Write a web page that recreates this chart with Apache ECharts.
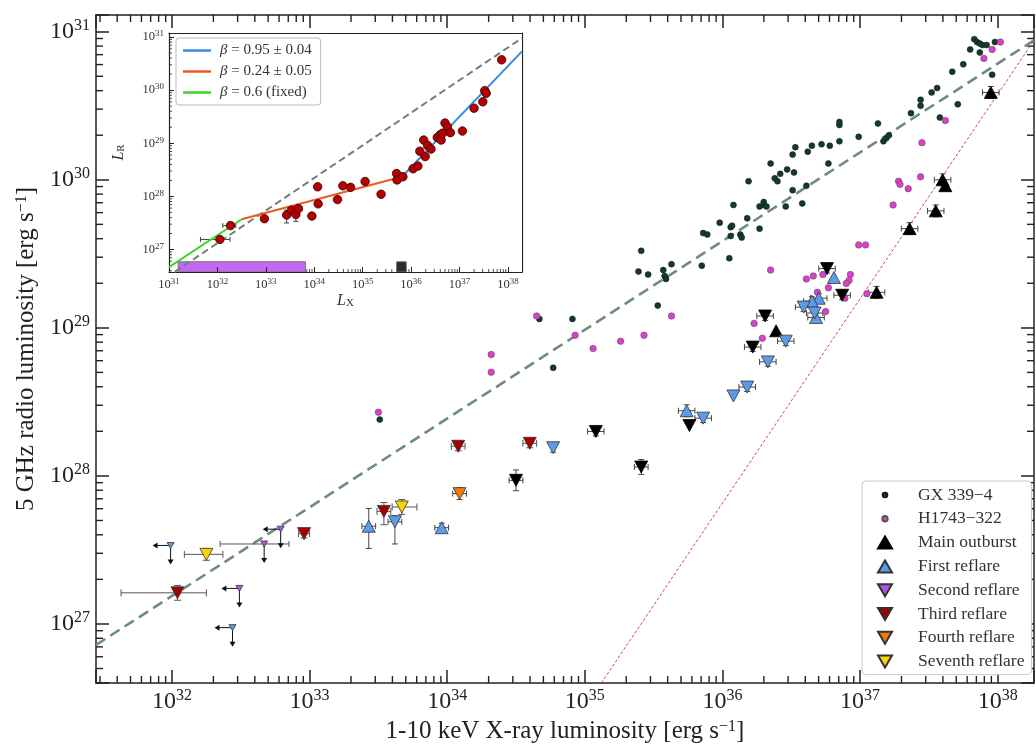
<!DOCTYPE html>
<html>
<head>
<meta charset="utf-8">
<script src="https://cdn.jsdelivr.net/npm/echarts@6/dist/echarts.min.js"></script>
<style>
  html, body { margin: 0; padding: 0; background: #fff; }
  #chart { width: 1036px; height: 745px; }
</style>
</head>
<body>
<div id="chart"></div>
<script>
// all luminosities are given as log10 (erg/s)

// GX 339-4 : [logLx, logLr]
const gxPoints = [
  [33.51, 28.38], [34.67, 29.06], [34.91, 29.06], [34.77, 28.73], [35.41, 29.52],
  [35.39, 29.38], [35.46, 29.36], [35.53, 29.15], [35.57, 29.39], [35.58, 29.35],
  [35.59, 29.33], [35.63, 29.43], [35.85, 29.42], [35.86, 29.64], [35.89, 29.63],
  [35.98, 29.71], [36.05, 29.47], [36.06, 29.62], [36.06, 29.68], [36.07, 29.69],
  [36.08, 29.83], [36.13, 29.63], [36.14, 29.61], [36.18, 29.74], [36.19, 29.99],
  [36.27, 29.67], [36.27, 29.82], [36.30, 29.85], [36.30, 29.83], [36.32, 29.82],
  [36.35, 30.11], [36.38, 30.01], [36.40, 29.99], [36.42, 30.04], [36.47, 30.07],
  [36.52, 30.05], [36.51, 30.17], [36.53, 30.22], [36.51, 29.93], [36.46, 29.82],
  [36.58, 29.84], [36.61, 29.96], [36.62, 30.19], [36.65, 30.23], [36.72, 30.24],
  [36.78, 30.23], [36.77, 30.11], [36.85, 30.26], [36.85, 30.37], [36.85, 30.39],
  [36.99, 30.29], [37.13, 30.38], [37.17, 30.26], [37.19, 30.28], [37.21, 30.30],
  [37.37, 30.45], [37.44, 30.50], [37.44, 30.54], [37.52, 30.59], [37.56, 30.62],
  [37.58, 30.42], [37.67, 30.73], [37.71, 30.51], [37.75, 30.78], [37.80, 30.88],
  [37.83, 30.95], [37.85, 30.93], [37.87, 30.92], [37.89, 30.91], [37.92, 30.91],
  [37.87, 30.86], [37.96, 30.71], [37.98, 30.93]
];

// H1743-322 : [logLx, logLr]
const h1743Points = [
  [33.50, 28.43], [34.32, 28.82], [34.32, 28.70], [34.65, 29.08], [34.93, 28.95],
  [35.06, 28.86], [35.26, 28.91], [35.43, 28.95], [35.63, 29.08], [36.35, 29.39],
  [36.23, 29.03], [36.29, 28.93], [36.61, 29.33], [36.66, 29.35], [36.73, 29.36],
  [36.93, 29.36], [36.92, 29.32], [36.90, 29.30], [36.77, 29.27], [36.69, 29.24],
  [36.89, 29.20], [36.75, 29.11], [37.05, 29.23], [36.99, 29.56], [37.04, 29.56],
  [37.24, 29.83], [37.28, 29.99], [37.29, 29.97], [37.35, 29.94], [37.44, 30.02],
  [37.45, 30.25], [37.62, 30.40], [37.90, 30.82], [37.96, 30.88], [38.02, 30.93]
];

// outburst markers : [logLx, logLr, xErrLo, xErrHi, yErrLo, yErrHi] (errors in dex)
const mainUp = [
  [37.95, 30.59, 0.06, 0.06, 0.04, 0.04], [37.60, 30.00, 0.06, 0.06, 0.04, 0.04],
  [37.62, 29.96, 0, 0, 0, 0], [37.55, 29.79, 0.06, 0.06, 0.04, 0.04],
  [37.36, 29.67, 0.06, 0.06, 0.04, 0.04], [37.12, 29.24, 0.06, 0.06, 0.04, 0.04],
  [36.39, 28.98, 0, 0, 0, 0]
];
const mainDown = [
  [36.76, 29.40, 0.06, 0.06, 0.03, 0.03], [36.87, 29.22, 0.06, 0.06, 0.03, 0.03],
  [36.31, 29.08, 0.06, 0.06, 0.03, 0.03], [36.22, 28.87, 0.06, 0.06, 0.03, 0.03],
  [35.76, 28.34, 0, 0, 0, 0], [35.08, 28.30, 0.06, 0.06, 0.03, 0.03],
  [34.50, 27.97, 0.05, 0.05, 0.07, 0.07], [35.41, 28.06, 0.05, 0.05, 0.05, 0.05]
];
const firstUp = [
  [33.43, 27.66, 0.05, 0.05, 0.15, 0.12], [33.96, 27.65, 0.05, 0.05, 0.03, 0.03],
  [35.74, 28.44, 0.06, 0.06, 0.04, 0.04], [36.81, 29.34, 0, 0, 0, 0],
  [36.70, 29.20, 0.06, 0.06, 0.03, 0.03], [36.65, 29.18, 0.06, 0.06, 0.03, 0.03],
  [36.68, 29.07, 0.06, 0.06, 0.03, 0.03]
];
const firstDown = [
  [33.62, 27.69, 0.05, 0.05, 0.15, 0.04], [34.77, 28.19, 0, 0, 0.03, 0.03],
  [35.86, 28.39, 0.06, 0.06, 0.03, 0.03], [36.08, 28.54, 0, 0, 0, 0],
  [36.18, 28.60, 0.06, 0.06, 0.03, 0.03], [36.33, 28.77, 0.06, 0.06, 0.03, 0.03],
  [36.46, 28.91, 0.06, 0.06, 0.03, 0.03], [36.59, 29.14, 0.06, 0.06, 0.03, 0.03],
  [36.67, 29.10, 0.06, 0.06, 0.03, 0.03]
];
const thirdDown = [
  [32.04, 27.21, 0.41, 0.21, 0.05, 0.05], [32.96, 27.61, 0.04, 0.04, 0.03, 0.03],
  [33.54, 27.76, 0.05, 0.05, 0.09, 0.06], [34.08, 28.20, 0.05, 0.05, 0.03, 0.03],
  [34.60, 28.22, 0.05, 0.05, 0.03, 0.03]
];
const fourthDown = [[34.09, 27.88, 0.05, 0.05, 0.04, 0.04]];
const seventhDown = [
  [32.25, 27.47, 0.16, 0.12, 0.04, 0.04], [33.67, 27.79, 0.07, 0.11, 0.05, 0.05]
];
// upper limits : [logLx, logLr, xErrLo, xErrHi, xIsLimit]
const firstLimits = [[31.99, 27.53, 0, 0, 1], [32.44, 26.975, 0, 0, 1]];
const secondLimits = [[32.67, 27.54, 0.32, 0.18, 0], [32.79, 27.64, 0, 0, 1], [32.49, 27.24, 0, 0, 1]];

// reference tracks : end points [logLx, logLr]
const standardTrack = [[31.448, 26.858], [38.27, 30.946]];
const steepTrack = [[35.12, 26.601], [38.27, 30.95]];

// inset : [logLx, logLr, xErrLo, xErrHi, yErrLo, yErrHi]
const insetPoints = [
  [32.05, 27.19, 0.40, 0.21, 0, 0], [32.27, 27.45, 0.16, 0.11, 0, 0], [32.97, 27.58, 0, 0, 0, 0],
  [33.43, 27.65, 0, 0, 0.15, 0.09], [33.53, 27.74, 0, 0, 0, 0], [33.62, 27.66, 0, 0, 0.13, 0.08],
  [33.67, 27.77, 0.08, 0.08, 0, 0], [33.95, 27.63, 0, 0, 0, 0], [34.07, 28.18, 0, 0, 0, 0],
  [34.08, 27.86, 0, 0, 0, 0], [34.48, 27.94, 0, 0, 0, 0], [34.59, 28.20, 0, 0, 0, 0],
  [34.75, 28.17, 0, 0, 0, 0], [35.05, 28.28, 0, 0, 0, 0], [35.38, 28.04, 0, 0, 0, 0],
  [35.70, 28.43, 0, 0, 0, 0], [35.71, 28.31, 0, 0, 0, 0], [35.83, 28.37, 0, 0, 0, 0],
  [36.04, 28.52, 0, 0, 0, 0], [36.14, 28.57, 0, 0, 0, 0], [36.18, 28.85, 0, 0, 0, 0],
  [36.26, 29.06, 0, 0, 0, 0], [36.29, 28.75, 0, 0, 0, 0], [36.34, 28.96, 0, 0, 0, 0],
  [36.41, 28.89, 0, 0, 0, 0], [36.54, 29.11, 0, 0, 0, 0], [36.60, 29.16, 0, 0, 0, 0],
  [36.62, 29.06, 0, 0, 0, 0], [36.65, 29.19, 0, 0, 0, 0], [36.70, 29.38, 0, 0, 0, 0],
  [36.75, 29.31, 0, 0, 0, 0], [36.81, 29.20, 0, 0, 0, 0], [37.06, 29.23, 0, 0, 0, 0],
  [37.30, 29.66, 0, 0, 0, 0], [37.48, 29.78, 0, 0, 0, 0], [37.52, 29.99, 0, 0, 0, 0],
  [37.55, 29.94, 0, 0, 0, 0], [37.87, 30.57, 0, 0, 0, 0]
];
const fitFixed = [[31.0, 26.67], [32.5, 27.57]];
const fitFlat = [[32.5, 27.57], [35.81, 28.37]];
const fitSteep = [[35.81, 28.37], [38.29, 30.73]];
const insetTrack = [[31.12, 26.58], [38.29, 30.98]];
// x ranges [from, to, top] drawn up from the inset floor
const insetRangeA = [31.19, 33.82, 26.77];
const insetRangeB = [35.70, 35.90, 26.77];

const mainX = [31.448, 38.264], mainY = [26.601, 31.113];
const insetX = [31.0, 38.29], insetY = [26.577, 31.075];

const P = v => Math.pow(10, v);
const SERIF = 'Liberation Serif';

function powLabel(v) {
  const e = Math.log10(v);
  const r = Math.round(e);
  if (Math.abs(e - r) > 1e-6) return '';
  return '{b|10}{s|' + r + '}';
}
function minorTicks(lo, hi) {
  const out = [];
  for (let e = Math.floor(lo); e <= Math.ceil(hi); e++) {
    for (let m = 2; m <= 9; m++) {
      const l = e + Math.log10(m);
      if (l > lo && l < hi) out.push(l);
    }
  }
  return out;
}
const pts = arr => arr.map(d => [P(d[0]), P(d[1])]);
const errs = arr => arr.map(d => [P(d[0]), P(d[1]), P(d[0] - d[2]), P(d[0] + d[3]), P(d[1] - d[4]), P(d[1] + d[5])]);

function errorRenderer(color, cap, width) {
  return function (params, api) {
    const x = api.value(0), y = api.value(1);
    const c = api.coord([x, y]);
    const xl = api.coord([api.value(2), y])[0], xh = api.coord([api.value(3), y])[0];
    const yl = api.coord([x, api.value(4)])[1], yh = api.coord([x, api.value(5)])[1];
    const st = { stroke: color, lineWidth: width };
    const ch = [];
    if (xh - xl > 0.5) {
      ch.push({ type: 'line', shape: { x1: xl, y1: c[1], x2: xh, y2: c[1] }, style: st });
      ch.push({ type: 'line', shape: { x1: xl, y1: c[1] - cap, x2: xl, y2: c[1] + cap }, style: st });
      ch.push({ type: 'line', shape: { x1: xh, y1: c[1] - cap, x2: xh, y2: c[1] + cap }, style: st });
    }
    if (yl - yh > 0.5) {
      ch.push({ type: 'line', shape: { x1: c[0], y1: yl, x2: c[0], y2: yh }, style: st });
      ch.push({ type: 'line', shape: { x1: c[0] - cap, y1: yl, x2: c[0] + cap, y2: yl }, style: st });
      ch.push({ type: 'line', shape: { x1: c[0] - cap, y1: yh, x2: c[0] + cap, y2: yh }, style: st });
    }
    return { type: 'group', children: ch };
  };
}

function limitRenderer(params, api) {
  const x = api.value(0), y = api.value(1);
  const c = api.coord([x, y]);
  const st = { stroke: '#111', lineWidth: 1 };
  const ch = [];
  const xl = api.coord([api.value(2), y])[0], xh = api.coord([api.value(3), y])[0];
  if (xh - xl > 0.5) {
    const gs = { stroke: '#555', lineWidth: 1 };
    ch.push({ type: 'line', shape: { x1: xl, y1: c[1], x2: xh, y2: c[1] }, style: gs });
    ch.push({ type: 'line', shape: { x1: xl, y1: c[1] - 3, x2: xl, y2: c[1] + 3 }, style: gs });
    ch.push({ type: 'line', shape: { x1: xh, y1: c[1] - 3, x2: xh, y2: c[1] + 3 }, style: gs });
  }
  ch.push({ type: 'line', shape: { x1: c[0], y1: c[1], x2: c[0], y2: c[1] + 15 }, style: st });
  ch.push({ type: 'polygon', shape: { points: [[c[0] - 3, c[1] + 14], [c[0] + 3, c[1] + 14], [c[0], c[1] + 19]] }, style: { fill: '#111' } });
  if (api.value(4)) {
    ch.push({ type: 'line', shape: { x1: c[0], y1: c[1], x2: c[0] - 14, y2: c[1] }, style: st });
    ch.push({ type: 'polygon', shape: { points: [[c[0] - 13, c[1] - 3], [c[0] - 13, c[1] + 3], [c[0] - 18, c[1]]] }, style: { fill: '#111' } });
  }
  return { type: 'group', children: ch };
}

function tickRenderer(len, both) {
  return function (params, api) {
    const cs = params.coordSys;
    const c = api.coord([api.value(0), api.value(1)]);
    const st = { stroke: '#222', lineWidth: both ? 1.4 : 0.8 };
    const ch = [];
    if (api.value(2) === 0) {
      const b = cs.y + cs.height;
      ch.push({ type: 'line', shape: { x1: c[0], y1: b, x2: c[0], y2: b - len }, style: st });
      if (both) ch.push({ type: 'line', shape: { x1: c[0], y1: cs.y, x2: c[0], y2: cs.y + len }, style: st });
    } else {
      ch.push({ type: 'line', shape: { x1: cs.x, y1: c[1], x2: cs.x + len, y2: c[1] }, style: st });
      if (both) {
        const r = cs.x + cs.width;
        ch.push({ type: 'line', shape: { x1: r, y1: c[1], x2: r - len, y2: c[1] }, style: st });
      }
    }
    return { type: 'group', children: ch };
  };
}

const triUp = 'path://M7,0L14,12L0,12Z';
const triDown = 'path://M0,0L14,0L7,12Z';
const dotIcon = r => 'path://M0,0M14,14M' + (7 + r) + ',7A' + r + ',' + r + ',0,1,1,' + (7 - r) + ',7A' + r + ',' + r + ',0,1,1,' + (7 + r) + ',7Z';

function logAxis(grid, range, extra) {
  return Object.assign({
    type: 'log', logBase: 10, gridIndex: grid, min: P(range[0]), max: P(range[1]),
    splitLine: { show: false }, minorTick: { show: false }
  }, extra);
}

const mainTick = { inside: true, length: 13, lineStyle: { color: '#222', width: 1.5 } };
const mainLine = { onZero: false, lineStyle: { color: '#222', width: 1.5 } };
const mainRich = {
  b: { fontFamily: SERIF, fontSize: 24, color: '#222', lineHeight: 28 },
  s: { fontFamily: SERIF, fontSize: 16, color: '#222', verticalAlign: 'top', lineHeight: 15 }
};
const nameRich = { s: { fontFamily: SERIF, fontSize: 16, color: '#222', verticalAlign: 'top', lineHeight: 14 } };
const insetTick = { inside: true, length: 5, lineStyle: { color: '#222', width: 1 } };
const insetLine = { onZero: false, lineStyle: { color: '#222', width: 1.2 } };
const insetRich = {
  b: { fontFamily: SERIF, fontSize: 12.5, color: '#333', lineHeight: 15 },
  s: { fontFamily: SERIF, fontSize: 9, color: '#333', verticalAlign: 'top', lineHeight: 9 }
};
const subRich = {
  i: { fontFamily: SERIF, fontStyle: 'italic', fontSize: 16, color: '#333' },
  sub: { fontFamily: SERIF, fontSize: 11, color: '#333', verticalAlign: 'bottom', padding: [6, 0, 0, 0] }
};

const mainMinor = minorTicks(mainX[0], mainX[1]).map(l => [P(l), P(29), 0])
  .concat(minorTicks(mainY[0], mainY[1]).map(l => [P(35), P(l), 1]));
const insetMinor = minorTicks(insetX[0], insetX[1]).map(l => [P(l), P(29), 0])
  .concat(minorTicks(insetY[0], insetY[1]).map(l => [P(35), P(l), 1]));

const bigTri = [13, 12];
const edge = { borderColor: '#333', borderWidth: 0.8 };

const option = {
  animation: false,
  backgroundColor: '#fff',
  grid: [
    { left: 96, top: 15, right: 2, bottom: 62, outerBoundsMode: 'none' },
    { left: 169, top: 33, right: 514, bottom: 473, outerBoundsMode: 'none',
      show: true, backgroundColor: '#fff', borderWidth: 0, z: 5 }
  ],
  xAxis: [
    logAxis(0, mainX, {
      position: 'bottom', axisLine: mainLine, axisTick: mainTick,
      axisLabel: { formatter: powLabel, margin: 5, rich: mainRich },
      name: '1-10 keV X-ray luminosity [erg s{s|−1}]', nameLocation: 'middle', nameGap: 28,
      nameTextStyle: { fontFamily: SERIF, fontSize: 25, color: '#222', rich: nameRich }
    }),
    logAxis(0, mainX, { position: 'top', axisLine: mainLine, axisTick: mainTick, axisLabel: { show: false } }),
    logAxis(1, insetX, {
      position: 'bottom', axisLine: insetLine, axisTick: insetTick, z: 6,
      axisLabel: { formatter: powLabel, margin: 5, rich: insetRich },
      name: '{i|L}{sub|X}', nameLocation: 'middle', nameGap: 20,
      nameTextStyle: { rich: subRich }
    }),
    logAxis(1, insetX, { position: 'top', axisLine: insetLine, axisTick: { show: false }, axisLabel: { show: false }, z: 6 })
  ],
  yAxis: [
    logAxis(0, mainY, {
      position: 'left', axisLine: mainLine, axisTick: mainTick,
      axisLabel: { formatter: powLabel, margin: 6, rich: mainRich },
      name: '5 GHz radio luminosity [erg s{s|−1}]', nameLocation: 'middle', nameGap: 56, nameRotate: 90,
      nameTextStyle: { fontFamily: SERIF, fontSize: 25, color: '#222', rich: nameRich }
    }),
    logAxis(0, mainY, { position: 'right', axisLine: mainLine, axisTick: mainTick, axisLabel: { show: false } }),
    logAxis(1, insetY, {
      position: 'left', axisLine: insetLine, axisTick: insetTick, z: 6,
      axisLabel: { formatter: powLabel, margin: 5, rich: insetRich },
      name: '{i|L}{sub|R}', nameLocation: 'middle', nameGap: 42, nameRotate: 90,
      nameTextStyle: { rich: subRich }
    }),
    logAxis(1, insetY, { position: 'right', axisLine: insetLine, axisTick: { show: false }, axisLabel: { show: false } })
  ],
  legend: [
    {
      orient: 'vertical', left: 862, top: 481, z: 20,
      padding: [5, 7, 4, 15], itemWidth: 14, itemHeight: 14, itemGap: 5.8,
      backgroundColor: '#fff', borderColor: '#c8c8c8', borderWidth: 1, borderRadius: 4,
      textStyle: { fontFamily: SERIF, fontSize: 17.5, color: '#333', lineHeight: 14, padding: [0, 0, 0, 21] },
      data: [
        { name: 'GX 339−4', icon: dotIcon(2.3) },
        { name: 'H1743−322', icon: dotIcon(2.7) },
        { name: 'Main outburst', icon: triUp },
        { name: 'First reflare', icon: triUp },
        { name: 'Second reflare', icon: triDown },
        { name: 'Third reflare', icon: triDown },
        { name: 'Fourth reflare', icon: triDown },
        { name: 'Seventh reflare', icon: triDown }
      ]
    },
    {
      orient: 'vertical', left: 176, top: 38, z: 20,
      padding: [5, 9, 5, 7], itemWidth: 28, itemHeight: 2.5, itemGap: 6, icon: 'rect',
      backgroundColor: '#fff', borderColor: '#bbb', borderWidth: 1, borderRadius: 3,
      textStyle: { fontFamily: SERIF, fontSize: 15, color: '#333', lineHeight: 14, padding: [0, 0, 0, 4],
        rich: { it: { fontFamily: SERIF, fontStyle: 'italic', fontSize: 15, color: '#333' } } },
      formatter: n => n.replace('β', '{it|β}'),
      data: ['β = 0.95 ± 0.04', 'β = 0.24 ± 0.05', 'β = 0.6 (fixed)']
    }
  ],
  series: [
    { type: 'custom', silent: true, xAxisIndex: 0, yAxisIndex: 0, renderItem: tickRenderer(7, true), data: mainMinor, z: 1 },
    { type: 'line', silent: true, xAxisIndex: 0, yAxisIndex: 0, data: pts(standardTrack), showSymbol: false,
      lineStyle: { color: '#6e8b82', width: 2.6, type: [11, 6] }, z: 1 },
    { type: 'line', silent: true, xAxisIndex: 0, yAxisIndex: 0, data: pts(steepTrack), showSymbol: false,
      lineStyle: { color: '#c8504a', width: 1, type: [3, 2] }, z: 1 },
    { name: 'GX 339−4', type: 'scatter', xAxisIndex: 0, yAxisIndex: 0, data: pts(gxPoints), symbolSize: 6,
      itemStyle: { color: '#17392a', borderColor: '#0b1d14', borderWidth: 0.5, opacity: 1 }, z: 3 },
    { name: 'H1743−322', type: 'scatter', xAxisIndex: 0, yAxisIndex: 0, data: pts(h1743Points), symbolSize: 6.5,
      itemStyle: { color: '#e03ccd', borderColor: '#555', borderWidth: 0.6, opacity: 1 }, z: 3 },
    { type: 'custom', silent: true, xAxisIndex: 0, yAxisIndex: 0, renderItem: errorRenderer('#444', 3, 1), z: 2,
      data: errs(mainUp.concat(mainDown, firstUp, firstDown, fourthDown)) },
    { type: 'custom', silent: true, xAxisIndex: 0, yAxisIndex: 0, renderItem: errorRenderer('#555', 3.5, 1), z: 2,
      data: errs(thirdDown.concat(seventhDown)) },
    { type: 'custom', silent: true, xAxisIndex: 0, yAxisIndex: 0, renderItem: limitRenderer, z: 2,
      data: firstLimits.concat(secondLimits).map(d => [P(d[0]), P(d[1]), P(d[0] - d[2]), P(d[0] + d[3]), d[4]]) },
    { name: 'Main outburst', type: 'scatter', xAxisIndex: 0, yAxisIndex: 0, data: pts(mainUp), symbol: triUp, symbolSize: bigTri,
      itemStyle: { color: '#000', borderColor: '#000', borderWidth: 0.8, opacity: 1 }, z: 4 },
    { name: 'Main outburst', type: 'scatter', xAxisIndex: 0, yAxisIndex: 0, data: pts(mainDown), symbol: triDown, symbolSize: bigTri,
      itemStyle: { color: '#000', borderColor: '#000', borderWidth: 0.8, opacity: 1 }, z: 4 },
    { name: 'First reflare', type: 'scatter', xAxisIndex: 0, yAxisIndex: 0, data: pts(firstUp), symbol: triUp, symbolSize: bigTri,
      itemStyle: Object.assign({ color: '#5b9be8', opacity: 1 }, edge), z: 4 },
    { name: 'First reflare', type: 'scatter', xAxisIndex: 0, yAxisIndex: 0, data: pts(firstDown), symbol: triDown, symbolSize: bigTri,
      itemStyle: Object.assign({ color: '#5b9be8', opacity: 1 }, edge), z: 4 },
    { name: 'First reflare', type: 'scatter', xAxisIndex: 0, yAxisIndex: 0, data: pts(firstLimits), symbol: triDown, symbolSize: [7, 6],
      itemStyle: Object.assign({ color: '#5b9be8', opacity: 1 }, edge), z: 4 },
    { name: 'Second reflare', type: 'scatter', xAxisIndex: 0, yAxisIndex: 0, data: pts(secondLimits), symbol: triDown, symbolSize: [7, 6],
      itemStyle: Object.assign({ color: '#b555e8', opacity: 1 }, edge), z: 4 },
    { name: 'Third reflare', type: 'scatter', xAxisIndex: 0, yAxisIndex: 0, data: pts(thirdDown), symbol: triDown, symbolSize: bigTri,
      itemStyle: Object.assign({ color: '#a50000', opacity: 1 }, edge), z: 4 },
    { name: 'Fourth reflare', type: 'scatter', xAxisIndex: 0, yAxisIndex: 0, data: pts(fourthDown), symbol: triDown, symbolSize: bigTri,
      itemStyle: Object.assign({ color: '#f57a0c', opacity: 1 }, edge), z: 4 },
    { name: 'Seventh reflare', type: 'scatter', xAxisIndex: 0, yAxisIndex: 0, data: pts(seventhDown), symbol: triDown, symbolSize: bigTri,
      itemStyle: Object.assign({ color: '#f7d509', opacity: 1 }, edge), z: 4 },

    // inset
    { type: 'custom', silent: true, xAxisIndex: 2, yAxisIndex: 2, renderItem: tickRenderer(3, false), data: insetMinor, z: 6 },
    { type: 'custom', silent: true, xAxisIndex: 2, yAxisIndex: 2, z: 6,
      renderItem: function (params, api) {
        const a = api.coord([api.value(0), api.value(2)]);
        const b = api.coord([api.value(1), P(insetY[0])]);
        return { type: 'rect', shape: { x: a[0], y: a[1], width: b[0] - a[0], height: b[1] - a[1] },
          style: { fill: api.value(3) ? '#c368f0' : '#2a2a2a', stroke: '#777', lineWidth: 1 } };
      },
      data: [[P(insetRangeA[0]), P(insetRangeA[1]), P(insetRangeA[2]), 1], [P(insetRangeB[0]), P(insetRangeB[1]), P(insetRangeB[2]), 0]] },
    { type: 'line', silent: true, xAxisIndex: 2, yAxisIndex: 2, data: pts(insetTrack), showSymbol: false,
      lineStyle: { color: '#6e8178', width: 2, type: [7, 4] }, z: 6 },
    { name: 'β = 0.95 ± 0.04', type: 'line', xAxisIndex: 2, yAxisIndex: 2, data: pts(fitSteep), showSymbol: false,
      color: '#3b8be0', lineStyle: { width: 2 }, z: 6 },
    { name: 'β = 0.24 ± 0.05', type: 'line', xAxisIndex: 2, yAxisIndex: 2, data: pts(fitFlat), showSymbol: false,
      color: '#f05a22', lineStyle: { width: 2 }, z: 6 },
    { name: 'β = 0.6 (fixed)', type: 'line', xAxisIndex: 2, yAxisIndex: 2, data: pts(fitFixed), showSymbol: false,
      color: '#3cd62a', lineStyle: { width: 2 }, z: 6 },
    { type: 'custom', silent: true, xAxisIndex: 2, yAxisIndex: 2, renderItem: errorRenderer('#444', 2.5, 1), z: 6,
      data: errs(insetPoints) },
    { type: 'scatter', xAxisIndex: 2, yAxisIndex: 2, data: pts(insetPoints), symbolSize: 8.5,
      itemStyle: { color: '#b30000', borderColor: '#3a0000', borderWidth: 0.8, opacity: 1 }, z: 7 }
  ]
};

const chart = echarts.init(document.getElementById('chart'), null, { renderer: 'canvas' });
chart.setOption(option);
</script>
</body>
</html>
